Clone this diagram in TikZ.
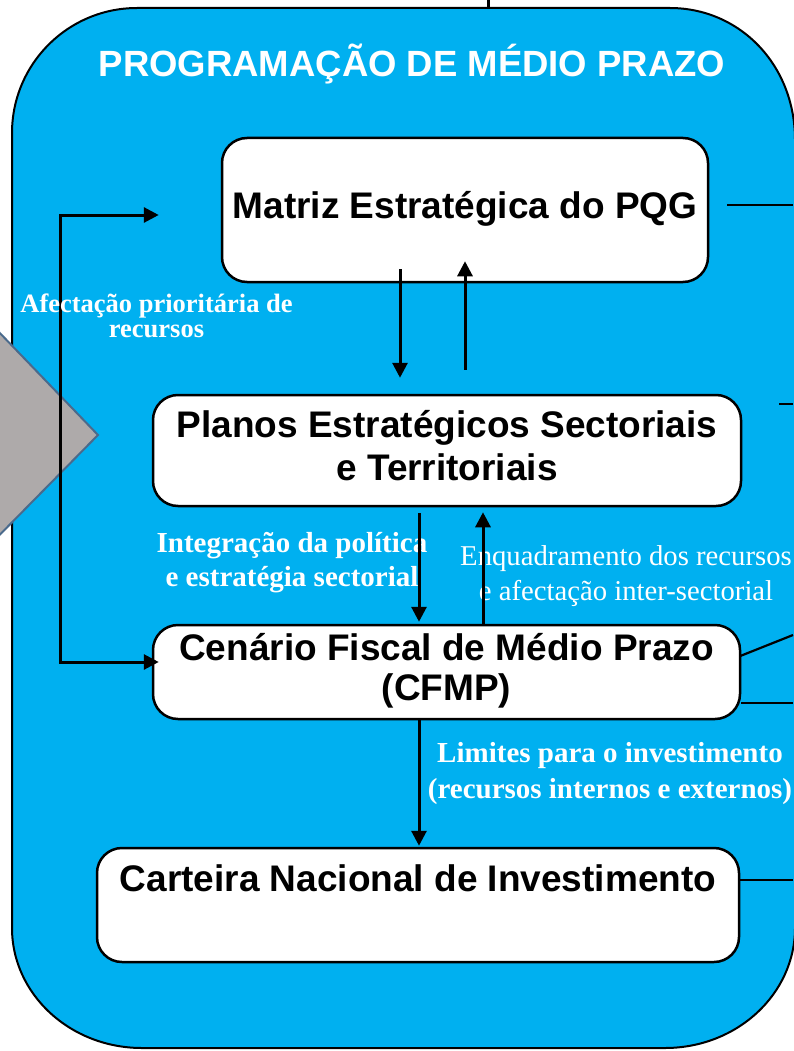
\documentclass[tikz,border=0pt]{standalone}
\usepackage{fontspec}
\setmainfont{Liberation Serif}
\newfontfamily\arialfont{Liberation Sans}
\usetikzlibrary{arrows.meta}
\definecolor{pptblue}{RGB}{0,176,240}
\definecolor{trigray}{RGB}{174,170,170}
\definecolor{triedge}{RGB}{74,106,140}
\tikzset{
  box/.style={draw=black, line width=2.5pt, fill=white, rounded corners=25pt, inner sep=0pt,
    font=\arialfont\bfseries\fontsize{37}{43.5}\selectfont},
  conn/.style={line width=3pt, -{Triangle[width=15pt,length=15pt]}},
  loopconn/.style={line width=3pt, {Triangle[width=15pt,length=15pt]}-{Triangle[width=15pt,length=15pt]}},
  plainline/.style={line width=2.2pt},
  lbl/.style={text=white, inner sep=0pt},
}
\begin{document}
\begin{tikzpicture}[x=1pt,y=-1pt]
\useasboundingbox (0,0) rectangle (793,1051);

% outer rounded region
\draw[fill=pptblue, line width=2pt]
  (12,133) .. controls (12,64) and (68,8) .. (137,8)
  -- (670,8) .. controls (739,8) and (795,64) .. (795,140)
  -- (795,928) .. controls (795,994) and (737,1048) .. (665,1048)
  -- (142,1048) .. controls (70,1048) and (12,994) .. (12,928) -- cycle;

% connector entering from above
\coordinate (topin) at (488,0);
\coordinate (topend) at (488,8);
\draw[line width=3pt] (topin) -- (topend);

% grey pointer
\draw[fill=trigray, draw=triedge, line width=2pt] (-30,302) -- (98,435) -- (-30,565) -- cycle;

% boxes
\node[box, minimum width=486pt, minimum height=144pt] (matriz) at (465,210)
  {\begin{tabular}{@{}c@{}}Matriz Estratégica do PQG\end{tabular}};
\node[box, minimum width=588pt, minimum height=111pt] (planos) at (447,450.5)
  {\begin{tabular}{@{}c@{}}Planos Estratégicos Sectoriais\\e Territoriais\end{tabular}};
\node[box, minimum width=587pt, minimum height=94pt] (cfmp) at (446.5,672)
  {\fontsize{37}{40}\selectfont\begin{tabular}{@{}c@{}}Cenário Fiscal de Médio Prazo\\(CFMP)\end{tabular}};
\node[box, minimum width=642pt, minimum height=114pt] (cart) at (418,905)
  {\begin{tabular}{@{}c@{}}Carteira Nacional de Investimento\\\mbox{}\end{tabular}};

% left feedback loop
\coordinate (loopx) at (60,440);
\draw[loopconn] ([xshift=-62pt,yshift=-5pt]matriz.west) -| (loopx) |- ([xshift=7pt,yshift=10pt]cfmp.west);

% labels
\node[lbl, font=\bfseries\fontsize{26.5}{25}\selectfont] (lafect) at (156.5,319.5)
  {\begin{tabular}{@{}c@{}}Afectação prioritária de\\recursos\end{tabular}};
\node[lbl, font=\bfseries\fontsize{29}{34}\selectfont] (linteg) at (292,562.2)
  {\begin{tabular}{@{}c@{}}Integração da política\\e estratégia sectorial\end{tabular}};
\node[lbl, font=\fontsize{28.7}{35}\selectfont] (lenq) at (626,575.5)
  {\begin{tabular}{@{}c@{}}Enquadramento dos recursos\\e afectação inter-sectorial\end{tabular}};
\node[lbl, font=\bfseries\fontsize{29}{36}\selectfont] (llim) at (610,772.8)
  {\begin{tabular}{@{}c@{}}Limites para o investimento\\(recursos internos e externos)\end{tabular}};

% vertical arrows
\draw[conn] ([xshift=-65pt,yshift=14pt]matriz.south) -- ([xshift=-47pt,yshift=16pt]planos.north);
\draw[conn] ([xshift=18pt,yshift=24pt]planos.north) -- ([yshift=22pt]matriz.south);
\draw[conn] ([xshift=-28pt,yshift=-6pt]planos.south) -- ([xshift=-27.5pt,yshift=2pt]cfmp.north);
\draw[conn] ([xshift=36.5pt]cfmp.north) -- ([xshift=36pt,yshift=-5pt]planos.south);
\draw[conn] ([xshift=-27.5pt]cfmp.south) -- ([xshift=1pt,yshift=1pt]cart.north);

% lines leaving to the right
\coordinate (rM) at (793,205);
\coordinate (rP) at (793,404);
\coordinate (rC1) at (793,635);
\coordinate (rC2) at (793,703);
\coordinate (rK) at (793,880);
\draw[plainline] ([xshift=18pt,yshift=5pt]matriz.east) -- (rM);
\draw[plainline] ([xshift=37pt,yshift=46.5pt]planos.east) -- (rP);
\draw[plainline] ([xshift=-1pt,yshift=16pt]cfmp.east) -- (rC1);
\draw[plainline] ([yshift=-31pt]cfmp.east) -- (rC2);
\draw[plainline] ([yshift=25pt]cart.east) -- (rK);

% title
\node[lbl, anchor=base, font=\arialfont\bfseries\fontsize{36.5}{43}\selectfont] (title) at (412,77)
  {PROGRAMAÇÃO DE MÉDIO PRAZO};
\end{tikzpicture}
\end{document}
